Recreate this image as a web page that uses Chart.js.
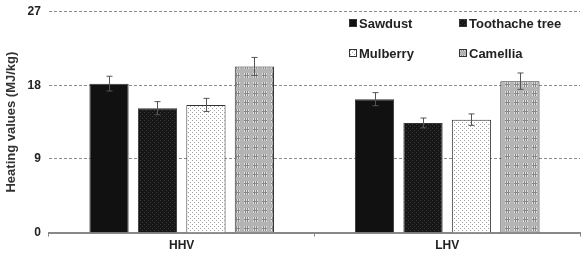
<!DOCTYPE html>
<html>
<head>
<meta charset="utf-8">
<script src="https://cdn.jsdelivr.net/npm/chart.js@4.4.0/dist/chart.umd.min.js"></script>
<style>
  html, body { margin: 0; padding: 0; background: #fff; }
  #wrap { width: 582px; height: 258px; }
</style>
</head>
<body>
<div id="wrap"><canvas id="heatChart" width="582" height="258"></canvas></div>
<script>
const categories = ['HHV', 'LHV'];
const species = ['Sawdust', 'Toothache tree', 'Mulberry', 'Camellia'];
const sawdust = [18.2, 16.3];
const toothache = [15.2, 13.4];
const mulberry = [15.6, 13.8];
const camellia = [20.3, 18.5];
const errSawdust = [0.9, 0.8];
const errToothache = [0.8, 0.6];
const errMulberry = [0.8, 0.7];
const errCamellia = [1.1, 1.0];
const yTicks = [0, 9, 18, 27];

const FONT = '"Liberation Sans", Arial, sans-serif';

function makePattern(bg, draw, size) {
    const c = document.createElement('canvas');
    c.width = size; c.height = size;
    const g = c.getContext('2d');
    g.fillStyle = bg;
    g.fillRect(0, 0, size, size);
    draw(g);
    return document.getElementById('heatChart').getContext('2d').createPattern(c, 'repeat');
}

const toothPattern = makePattern('#161616', g => {
    g.fillStyle = '#3c3c3c';
    g.fillRect(0, 0, 1, 1);
    g.fillRect(2, 2, 1, 1);
}, 4);

const mulberryPattern = makePattern('#ffffff', g => {
    g.fillStyle = '#a0a0a0';
    g.fillRect(0, 0, 1, 1);
    g.fillRect(2, 2, 1, 1);
}, 4);

const camelliaPattern = makePattern('#b4b4b4', g => {
    g.fillStyle = '#e0e0e0';
    g.fillRect(1, 1, 5, 5);
    g.fillStyle = '#888';
    g.fillRect(2, 1, 1, 5);
    g.fillRect(4, 1, 1, 5);
    g.fillRect(1, 3, 5, 1);
}, 9);

const fills = ['#111111', toothPattern, mulberryPattern, camelliaPattern];
const values = [sawdust, toothache, mulberry, camellia];
const errors = [errSawdust, errToothache, errMulberry, errCamellia];

const errorBars = {
    id: 'errorBars',
    afterDatasetsDraw(chart) {
        const ctx = chart.ctx;
        const y = chart.scales.y;
        ctx.save();
        ctx.strokeStyle = '#555';
        ctx.lineWidth = 1;
        chart.data.datasets.forEach((ds, i) => {
            chart.getDatasetMeta(i).data.forEach((bar, j) => {
                const v = ds.data[j];
                const e = errors[i][j];
                const top = y.getPixelForValue(v + e);
                const bot = y.getPixelForValue(v - e);
                const x = Math.round(bar.x) + 0.5;
                ctx.beginPath();
                ctx.moveTo(x, top); ctx.lineTo(x, bot);
                ctx.moveTo(x - 3, top); ctx.lineTo(x + 3, top);
                ctx.moveTo(x - 3, bot); ctx.lineTo(x + 3, bot);
                ctx.stroke();
            });
        });
        ctx.restore();
    }
};

const legendBox = {
    id: 'legendBox',
    afterDraw(chart) {
        const ctx = chart.ctx;
        const pos = [[349, 23], [459, 23], [349, 53], [459, 53]];
        ctx.save();
        ctx.font = 'bold 13px ' + FONT;
        ctx.textBaseline = 'middle';
        species.forEach((name, i) => {
            const [x, y] = pos[i];
            ctx.fillStyle = fills[i];
            ctx.fillRect(x, y - 4, 8, 8);
            ctx.strokeStyle = '#333';
            ctx.lineWidth = 1;
            ctx.strokeRect(x + 0.5, y - 3.5, 7, 7);
            ctx.fillStyle = '#222';
            ctx.fillText(name, x + 10, y + 1);
        });
        ctx.restore();
    }
};

new Chart(document.getElementById('heatChart').getContext('2d'), {
    type: 'bar',
    data: {
        labels: categories,
        datasets: species.map((name, i) => ({
            label: name,
            data: values[i],
            backgroundColor: fills[i],
            borderColor: '#333',
            borderWidth: 1,
            categoryPercentage: 0.73,
            barPercentage: 0.81
        }))
    },
    options: {
        responsive: false,
        animation: false,
        layout: { padding: { top: 2, right: 2, left: 4, bottom: 3 } },
        plugins: {
            legend: { display: false },
            tooltip: { enabled: false }
        },
        scales: {
            x: {
                grid: { drawOnChartArea: false, color: '#888', tickLength: 4, offset: true },
                border: { color: '#888', width: 2 },
                ticks: { color: '#222', font: { family: FONT, size: 12, weight: 'bold' }, padding: 2 }
            },
            y: {
                min: 0,
                max: 27,
                afterBuildTicks: axis => { axis.ticks = yTicks.map(v => ({ value: v })); },
                grid: { color: '#8a8a8a', drawTicks: false, lineWidth: ctx => ctx.tick.value === 0 ? 0 : 1 },
                border: { display: false, dash: [3, 2] },
                ticks: { color: '#222', font: { family: FONT, size: 12, weight: 'bold', lineHeight: 0.6 }, padding: 8 },
                title: { display: true, text: 'Heating values (MJ/kg)', color: '#333', font: { family: FONT, size: 13, weight: 'bold' }, padding: 0 }
            }
        }
    },
    plugins: [errorBars, legendBox]
});
</script>
</body>
</html>
